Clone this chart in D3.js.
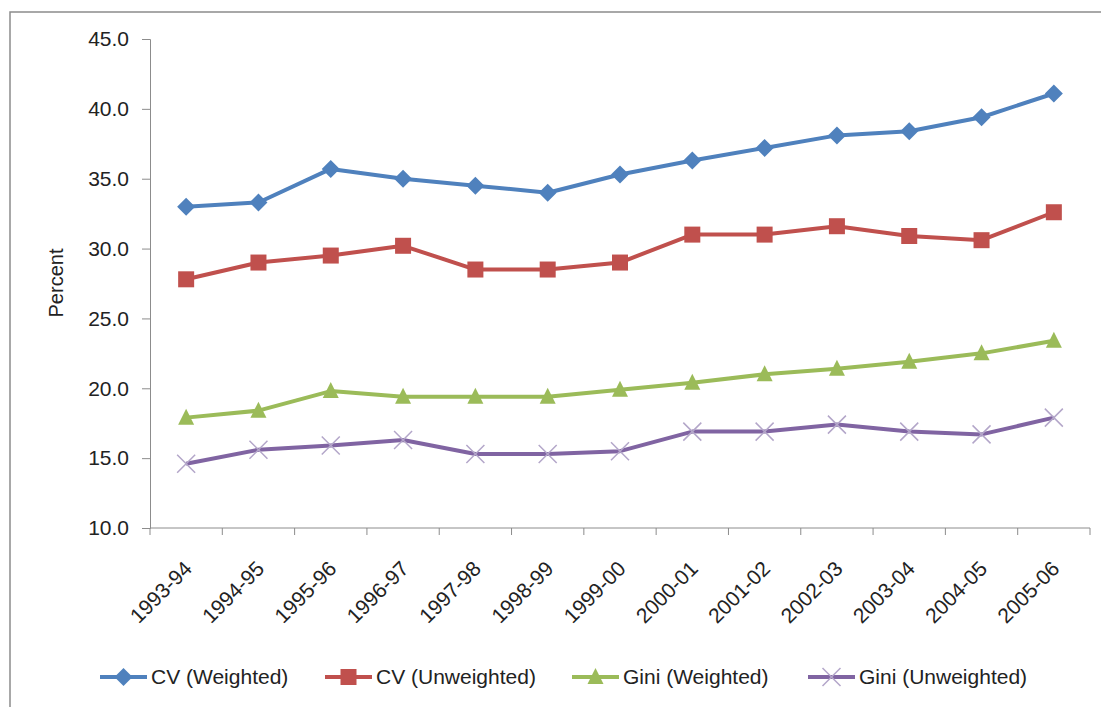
<!DOCTYPE html>
<html>
<head>
<meta charset="utf-8">
<script src="https://cdn.jsdelivr.net/npm/d3@7"></script>
<style>
  body { margin: 0; background: #fff; }
  text { font-family: "Liberation Sans", Arial, sans-serif; fill: #222; }
</style>
</head>
<body>
<script>
//chart data
var years = ["1993-94","1994-95","1995-96","1996-97","1997-98","1998-99","1999-00",
             "2000-01","2001-02","2002-03","2003-04","2004-05","2005-06"];
var cvWeighted   = [33.0,33.3,35.7,35.0,34.5,34.0,35.3,36.3,37.2,38.1,38.4,39.4,41.1];
var cvUnweighted = [27.8,29.0,29.5,30.2,28.5,28.5,29.0,31.0,31.0,31.6,30.9,30.6,32.6];
var giniWeighted = [17.9,18.4,19.8,19.4,19.4,19.4,19.9,20.4,21.0,21.4,21.9,22.5,23.4];
var giniUnweighted = [14.6,15.6,15.9,16.3,15.3,15.3,15.5,16.9,16.9,17.4,16.9,16.7,17.9];
var seriesNames = ["CV (Weighted)","CV (Unweighted)","Gini (Weighted)","Gini (Unweighted)"];
var yTicks = [10,15,20,25,30,35,40,45];

var series = [
  {name: seriesNames[0], values: cvWeighted, color: "#4F81BD", marker: "diamond"},
  {name: seriesNames[1], values: cvUnweighted, color: "#C0504D", marker: "square"},
  {name: seriesNames[2], values: giniWeighted, color: "#9BBB59", marker: "triangle"},
  {name: seriesNames[3], values: giniUnweighted, color: "#8064A2", marker: "cross"}
];

var width = 1101, height = 707;
var plotLeft = 150, plotRight = 1090, plotTop = 39, plotBottom = 528;

var svg = d3.select("body").append("svg")
    .attr("width", width)
    .attr("height", height);

//outer frame
svg.append("rect")
    .attr("x", 10).attr("y", 12)
    .attr("width", 1100).attr("height", 700)
    .attr("fill", "none")
    .attr("stroke", "#8c8c8c")
    .attr("stroke-width", 1.5);

var x = d3.scaleBand().domain(years).range([plotLeft, plotRight]);
var y = d3.scaleLinear().domain([10, 45]).range([plotBottom, plotTop]);

//y axis
var yAxis = svg.append("g")
    .attr("transform", "translate(" + plotLeft + ",0)")
    .call(d3.axisLeft(y).tickValues(yTicks).tickSize(8).tickPadding(13)
      .tickFormat(d3.format(".1f")));
yAxis.selectAll("line, path").attr("stroke", "#8c8c8c");
yAxis.selectAll("text").style("font-size", "21px").attr("fill", "#222");

//x axis, ticks on band edges
var xAxis = svg.append("g")
    .attr("transform", "translate(0," + plotBottom + ")");
xAxis.append("line")
    .attr("x1", plotLeft).attr("x2", plotRight)
    .attr("stroke", "#8c8c8c");
xAxis.selectAll(".tk")
    .data(years.concat(["end"]))
    .enter().append("line")
    .attr("x1", function(d, i){ return plotLeft + i * x.step(); })
    .attr("x2", function(d, i){ return plotLeft + i * x.step(); })
    .attr("y1", 0).attr("y2", 7)
    .attr("stroke", "#8c8c8c");
xAxis.selectAll(".lbl")
    .data(years)
    .enter().append("text")
    .attr("text-anchor", "end")
    .attr("transform", function(d){
      return "translate(" + (x(d) + x.bandwidth() / 2 + 7) + ",42) rotate(-45)";
    })
    .style("font-size", "21px")
    .text(function(d){ return d; });

//y label
svg.append("text")
    .attr("transform", "translate(63,283) rotate(-90)")
    .attr("text-anchor", "middle")
    .style("font-size", "20px")
    .text("Percent");

var cx = function(i){ return x(years[i]) + x.bandwidth() / 2; };

var line = d3.line()
    .x(function(d, i){ return cx(i); })
    .y(function(d){ return y(d); });

function drawMarker(g, type, color) {
  if (type === "diamond") {
    g.append("path").attr("d", "M0,-9L9,0L0,9L-9,0Z").attr("fill", color);
  } else if (type === "square") {
    g.append("rect").attr("x", -8).attr("y", -8).attr("width", 16).attr("height", 16).attr("fill", color);
  } else if (type === "triangle") {
    g.append("path").attr("d", "M0,-9L8,7L-8,7Z").attr("fill", color);
  } else {
    g.append("path").attr("d", "M-9,-9L9,9M9,-9L-9,9")
      .attr("stroke", "#b3a6c9").attr("stroke-width", 1.5).attr("fill", "none");
  }
}

series.forEach(function(s){
  svg.append("path")
      .datum(s.values)
      .attr("d", line)
      .attr("fill", "none")
      .attr("stroke", s.color)
      .attr("stroke-width", 4)
      .attr("stroke-linejoin", "round");
  s.values.forEach(function(v, i){
    var g = svg.append("g").attr("transform", "translate(" + cx(i) + "," + y(v) + ")");
    drawMarker(g, s.marker, s.color);
  });
});

//legend
var legendX = [100, 325, 572, 808];
series.forEach(function(s, i){
  var g = svg.append("g").attr("transform", "translate(" + legendX[i] + ",677)");
  g.append("line").attr("x1", 0).attr("x2", 47)
      .attr("stroke", s.color).attr("stroke-width", 4);
  var m = g.append("g").attr("transform", "translate(23.5,0)");
  drawMarker(m, s.marker, s.color);
  g.append("text").attr("x", 51).attr("y", 7)
      .style("font-size", "21px")
      .text(s.name);
});
</script>
</body>
</html>
